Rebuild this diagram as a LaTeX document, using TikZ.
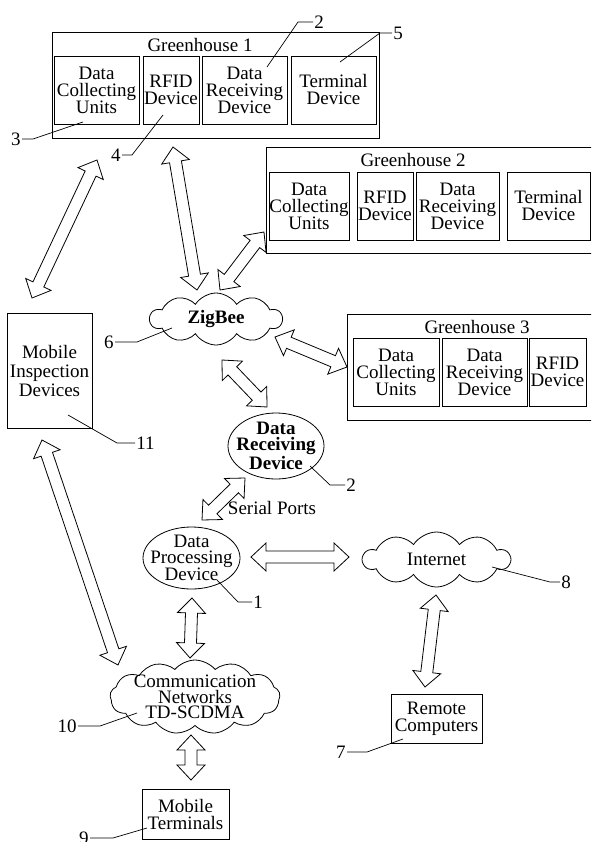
\documentclass[tikz,border=0pt]{standalone}
\usepackage{fontspec}
\setmainfont{Liberation Serif}
\usetikzlibrary{calc,shapes.geometric,shapes.symbols}

\tikzset{
  house/.style={draw, minimum width=#1, minimum height=106, inner sep=0pt},
  unit/.style={draw, align=center, inner sep=0pt, minimum height=68},
  box/.style={draw, align=center, inner sep=0pt},
  oval/.style={ellipse, draw, align=center, inner xsep=-14pt, inner ysep=-8pt, font=\fontsize{19}{16}\selectfont},
  puff/.style={cloud, draw, cloud puffs=10, cloud puff arc=115, cloud ignores aspect,
    align=center, inner xsep=-20pt, inner ysep=-6pt, font=\fontsize{19}{16}\selectfont},
}

% hollow double-headed arrow between two named points
\newcommand\fatarrow[2]{%
  \path let \p1=($(#2)-(#1)$), \n1={atan2(\y1,\x1)}, \n2={veclen(\x1,\y1)} in
    \pgfextra{\xdef\arrang{\n1}\xdef\arrlen{\n2}};
  \draw[shift={(#1)}, rotate=\arrang, line join=miter]
    (0pt,0pt) -- (15pt,14pt) -- (15pt,6pt) -- (\arrlen-15pt,6pt) -- (\arrlen-15pt,14pt)
    -- (\arrlen,0pt) -- (\arrlen-15pt,-14pt) -- (\arrlen-15pt,-6pt) -- (15pt,-6pt)
    -- (15pt,-14pt) -- cycle;
}

\begin{document}
\begin{tikzpicture}[x=1pt, y=-1pt, line width=0.8pt, font=\fontsize{19}{17}\selectfont]
  \clip (0,0) rectangle (591,842);

  % greenhouses
  \node[house=327] (gh1) at (215.5,85) {};
  \node (gh1t) at (200,45) {Greenhouse 1};
  \def\unitsa{Data\\Collecting\\Units/96.5/85,RFID\\Device/171/56,Data\\Receiving\\Device/244.5/85,Terminal\\Device/333.5/85}
  \foreach \t/\cx/\w [count=\i from 1] in \unitsa {\node[unit, minimum width=\w] (ga\i) at (\cx,90) {\t};}

  \node[house=334] (gh2) at (433,200) {};
  \node (gh2t) at (413,160) {Greenhouse 2};
  \def\unitsb{Data\\Collecting\\Units/309/80,RFID\\Device/385/56,Data\\Receiving\\Device/457.5/83,Terminal\\Device/548.5/83}
  \foreach \t/\cx/\w [count=\i from 1] in \unitsb {\node[unit, minimum width=\w] (gb\i) at (\cx,206) {\t};}

  \node[house=253] (gh3) at (473.5,367) {};
  \node (gh3t) at (477,327) {Greenhouse 3};
  \def\unitsc{Data\\Collecting\\Units/396/86,Data\\Receiving\\Device/484.5/85,RFID\\Device/557.5/57}
  \foreach \t/\cx/\w [count=\i from 1] in \unitsc {\node[unit, minimum width=\w] (gc\i) at (\cx,372) {\t};}

  % networks and devices
  \node[puff, minimum width=132, minimum height=52, font=\fontsize{19}{16}\bfseries] (zig) at (216,319) {ZigBee};
  \node[puff, minimum width=147, minimum height=55] (inet) at (436.5,559.5) {Internet};
  \node[puff, cloud puffs=13, cloud puff arc=100, minimum width=170, minimum height=74,
    font=\fontsize{19}{15.5}\selectfont] (comm) at (195,697) {Communication\\Networks\\TD-SCDMA};
  \node[oval, minimum width=96, minimum height=66, font=\fontsize{19}{16}\selectfont\bfseries] (drd) at (276,446) {Data\\Receiving\\Device};
  \node[oval, minimum width=97, minimum height=62] (dpd) at (191.5,558) {Data\\Processing\\Device};
  \node[box, minimum width=85, minimum height=115, font=\fontsize{19}{19}\selectfont] (mob) at (49.5,370.5) {Mobile\\Inspection\\Devices};
  \node[box, minimum width=91, minimum height=49] (rc) at (436.5,718.5) {Remote\\Computers};
  \node[box, minimum width=87, minimum height=50] (mt) at (185.5,814) {Mobile\\Terminals};
  \node (sp) at (272,508) {Serial Ports};

  % hollow arrows
  \foreach \a/\b/\ax/\ay/\bx/\by in {gh1/mob/97/160/32/298, gh1/zig/173/147/197/290,
      zig/gh2/220/290/264/232, zig/gh3/275/337/347/367, zig/drd/222/360/267/407,
      drd/dpd/245/478/202/520, dpd/inet/251/557/349/557, inet/rc/436/595/425/687,
      dpd/comm/192/598/190/658, comm/mt/191/735/191/780, mob/comm/42/440/118/665}
  {\coordinate (\a\b) at (\ax,\ay); \coordinate (\b\a) at (\bx,\by); \fatarrow{\a\b}{\b\a}}

  % reference numerals
  \foreach \lab/\an/\sx/\sy/\h/\tgt/\dx/\dy [count=\i from 1] in {
      3/east/22/139/11/ga1/-13.5/32, 4/east/122/155/10/ga2/-8/25,
      2/west/313/22/-15/ga3/22.5/-23, 5/west/392/33/-12/ga4/6.5/-28,
      6/east/115/342/22/zig/-44/9, 11/west/135/443/-18/mob/18.5/44.5,
      2/west/345/485/-15/drd/34/20, 1/west/252/602/-14/dpd/25.5/22,
      8/west/560/582/-10/inet/55.5/7.5, 7/east/347/752/20/rc/-33.5/20.5,
      10/east/78/726/22/comm/-58/16, 9/east/90/838/23/mt/-38.5/14}
  {\node[anchor=\an, inner sep=1pt] (lab\i) at (\sx,\sy) {\lab};
   \draw[line width=0.7pt] (lab\i.\an) -- ++(\h,0) -- ($(\tgt)+(\dx,\dy)$);}
\end{tikzpicture}
\end{document}
